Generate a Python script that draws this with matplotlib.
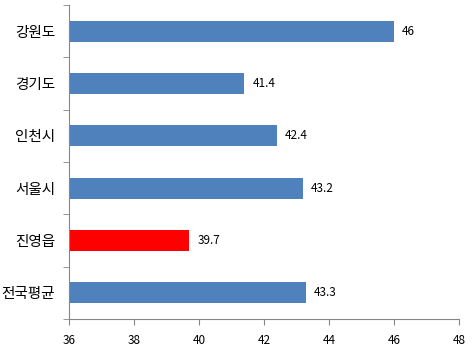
import matplotlib
matplotlib.use('Agg')
import matplotlib.pyplot as plt
import numpy as np

plt.rcParams['font.family'] = ['Noto Sans CJK KR', 'DejaVu Sans']

# 데이터 (위에서 아래 순서)
categories = ['강원도', '경기도', '인천시', '서울시', '진영읍', '전국평균']
values = [46, 41.4, 42.4, 43.2, 39.7, 43.3]
colors = ['#4F81BD', '#4F81BD', '#4F81BD', '#4F81BD', '#FF0000', '#4F81BD']

fig = plt.figure(figsize=(4.75, 3.52), dpi=100)
ax = fig.add_axes([0.145, 0.094, 0.821, 0.892])

y = np.arange(len(categories))
base = 36
ax.barh(y, np.array(values) - base, left=base, height=0.4, color=colors)

for yi, v in zip(y, values):
    ax.text(v + 0.25, yi, f'{v:g}', va='center', ha='left', fontsize=8.5, color='black')

ax.set_xlim(36, 48)
ax.set_xticks(range(36, 49, 2))
ax.set_ylim(len(categories) - 0.5, -0.5)
ax.set_yticks(y)
ax.set_yticklabels(categories, fontsize=10.5)
ax.set_yticks(np.arange(-0.5, len(categories), 1), minor=True)
ax.tick_params(axis='y', which='major', length=0, pad=10)
ax.tick_params(axis='y', which='minor', length=4, color='#868686', direction='out')
ax.tick_params(axis='x', length=4, color='#868686', labelsize=8.5, pad=7)

for s in ['top', 'right']:
    ax.spines[s].set_visible(False)
for s in ['left', 'bottom']:
    ax.spines[s].set_color('#868686')

fig.savefig('out.png', dpi=100)
